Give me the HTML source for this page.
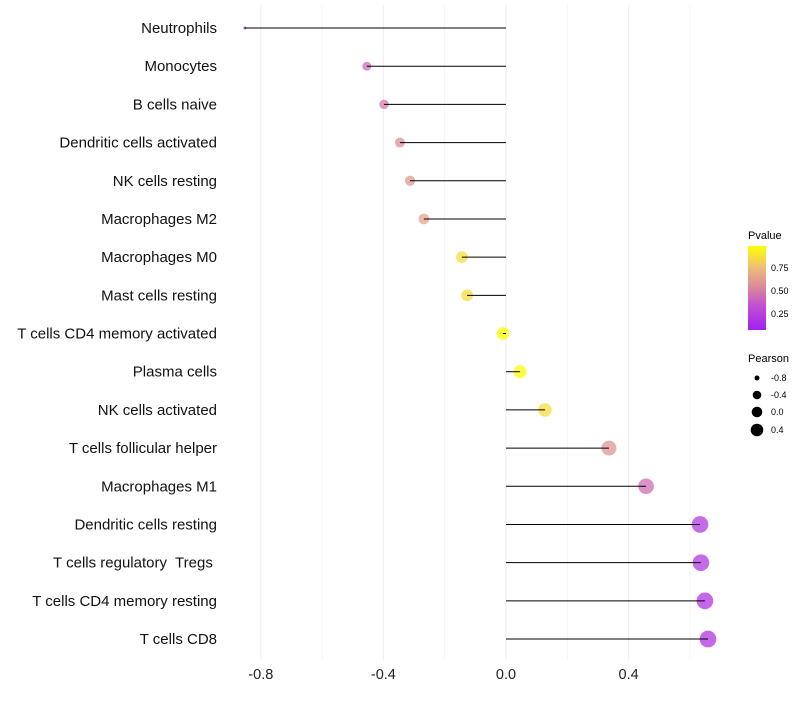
<!DOCTYPE html>
<html><head><meta charset="utf-8"><style>
body{margin:0;background:#fff;font-family:"Liberation Sans",sans-serif;}
svg text{font-family:"Liberation Sans",sans-serif;white-space:pre;}
</style></head><body>
<svg id="chart" width="800" height="700" xmlns="http://www.w3.org/2000/svg">
<g id="grid"></g>
<g id="ylabels"></g>
<g id="xlabels"></g>
<g id="dots"></g>
<g id="segs"></g>
<g id="legend">
  <defs><linearGradient id="pg" x1="0" y1="1" x2="0" y2="0">
    <stop offset="0" stop-color="#a020f0"/><stop offset="0.3" stop-color="#c452cf"/>
    <stop offset="0.5" stop-color="#d8869f"/><stop offset="0.75" stop-color="#efbf75"/>
    <stop offset="1" stop-color="#ffff00"/></linearGradient></defs>
  <text x="748" y="239" font-size="11">Pvalue</text>
  <rect x="748" y="246" width="18" height="84" fill="url(#pg)"/>
  <text x="771" y="271" font-size="9">0.75</text>
  <text x="771" y="294" font-size="9">0.50</text>
  <text x="771" y="317" font-size="9">0.25</text>
  <text x="748" y="362" font-size="11">Pearson</text>
  <circle cx="757" cy="378" r="2.5" fill="#000"/>
  <circle cx="757" cy="395" r="4.3" fill="#000"/>
  <circle cx="757" cy="412" r="5.3" fill="#000"/>
  <circle cx="757" cy="430" r="6.3" fill="#000"/>
  <text x="771" y="381" font-size="9">-0.8</text>
  <text x="771" y="398" font-size="9">-0.4</text>
  <text x="771" y="415" font-size="9">0.0</text>
  <text x="771" y="433" font-size="9">0.4</text>
</g>
</svg>
<script>
const categories=["Neutrophils","Monocytes","B cells naive","Dendritic cells activated","NK cells resting","Macrophages M2","Macrophages M0","Mast cells resting","T cells CD4 memory activated","Plasma cells","NK cells activated","T cells follicular helper","Macrophages M1","Dendritic cells resting","T cells regulatory  Tregs ","T cells CD4 memory resting","T cells CD8"];
const pearson=[-0.852,-0.454,-0.398,-0.346,-0.313,-0.268,-0.144,-0.127,-0.01,0.046,0.127,0.336,0.457,0.633,0.636,0.649,0.659];
const pvalue=[0.08,0.45,0.5,0.58,0.62,0.66,0.87,0.87,0.99,0.97,0.87,0.6,0.45,0.22,0.22,0.2,0.2];
const xTicks=[-0.8,-0.4,0.0,0.4];
const xMinor=[-0.6,-0.2,0.2,0.6];
const xs=v=>506+v*306.5;
const ys=i=>28+i*38.19;
const NS="http://www.w3.org/2000/svg";
function mk(t,a,p){const e=document.createElementNS(NS,t);for(const k in a)e.setAttribute(k,a[k]);p.appendChild(e);return e;}
const stops=[[0,[160,32,240]],[0.3,[196,82,207]],[0.5,[216,134,159]],[0.75,[239,191,117]],[1,[255,255,0]]];
function col(p){const t=Math.max(0,Math.min(1,(p-0.08)/(0.99-0.08)));
 for(let i=1;i<stops.length;i++){if(t<=stops[i][0]){const a=stops[i-1],b=stops[i],f=(t-a[0])/(b[0]-a[0]);
 return "rgb("+a[1].map((c,j)=>Math.round(c+(b[1][j]-c)*f)).join(",")+")";}}return "rgb(255,255,0)";}
function rad(v){return Math.sqrt(2.25+45*(v+0.852));}
const grid=document.getElementById('grid');
xMinor.concat(xTicks).forEach(v=>{const l=mk('line',{x1:xs(v),x2:xs(v),y1:5,y2:660,stroke:'#efefef','stroke-width':xTicks.includes(v)?1.1:0.6},grid);

});
const xl=document.getElementById('xlabels');
xTicks.forEach(v=>{const t=mk('text',{x:xs(v),y:679,'font-size':14.5,'text-anchor':'middle',fill:'#222'},xl);t.textContent=v.toFixed(1);

});
const yl=document.getElementById('ylabels'),dots=document.getElementById('dots'),segs=document.getElementById('segs');
categories.forEach((c,i)=>{
 const t=mk('text',{x:217,y:ys(i)+5,'font-size':15,'text-anchor':'end',fill:'#111'},yl);t.textContent=c;
 
 
 const d=mk('circle',{cx:xs(pearson[i]),cy:ys(i),r:rad(pearson[i]),fill:col(pvalue[i]),'fill-opacity':0.75},dots);
 
 
 const s=mk('line',{x1:xs(0),x2:xs(pearson[i]),y1:ys(i),y2:ys(i),stroke:'#000','stroke-width':1},segs);
 
 
});
</script>
</body></html>
